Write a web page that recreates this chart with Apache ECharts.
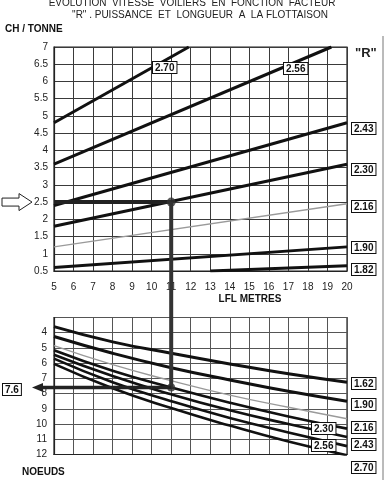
<!DOCTYPE html>
<html>
<head>
<meta charset="utf-8">
<script src="https://cdn.jsdelivr.net/npm/echarts@6/dist/echarts.min.js"></script>
<style>
html,body{margin:0;padding:0;background:#fff;}
#c{width:385px;height:480px;}
</style>
</head>
<body>
<div id="c"></div>
<script>
// ---- DATA ----
// Top chart: CH / TONNE versus LFL (metres) for each factor R
const topNames = ['2.70', '2.56', '2.43', '2.30', '2.16', '1.90', '1.82'];
const chTonne270 = [[5, 4.8], [11.9, 7.0]];
const chTonne256 = [[5, 3.6], [19.2, 7.0]];
const chTonne243 = [[5, 2.4], [20, 4.8]];
const chTonne230 = [[5, 1.8], [20, 3.6]];
const chTonne216 = [[5, 1.2], [20, 2.45]];
const chTonne190 = [[5, 0.6], [20, 1.2]];
const chTonne182 = [[13, 0.5], [20, 0.65]];

// Bottom chart: NOEUDS versus LFL for each factor R
const lflPoints = [5, 8, 11, 14, 17, 20];
const bottomNames = ['1.62', '1.90', '2.16', '2.30', '2.43', '2.56', '2.70'];
const noeuds162 = [3.6, 4.6, 5.35, 6.05, 6.7, 7.25];
const noeuds190 = [4.25, 5.35, 6.3, 7.1, 7.85, 8.5];
const noeuds216 = [4.85, 6.1, 7.15, 8.1, 8.9, 9.65];
const noeuds230 = [5.15, 6.5, 7.6, 8.6, 9.5, 10.3];
const noeuds243 = [5.45, 6.85, 8.05, 9.1, 10.0, 10.85];
const noeuds256 = [5.7, 7.25, 8.5, 9.6, 10.55, 11.45];
const noeuds270 = [6.05, 7.65, 8.95, 10.1, 11.15, 12.05];

// Worked example
const exampleLfl = 11;
const exampleCh = 2.5;
const exampleKnots = 7.6;

// Tick labels
const topYTicks = ['0.5','1','1.5','2','2.5','3','3.5','4','4.5','5','5.5','6','6.5','7'];
const bottomYTicks = ['4','5','6','7','8','9','10','11','12'];
const xTicks = ['5','6','7','8','9','10','11','12','13','14','15','16','17','18','19','20'];

// ---- CHART ----
const FONT = '"Liberation Sans", Arial, sans-serif';
const chart = echarts.init(document.getElementById('c'), null, {renderer: 'canvas'});

const topData = [chTonne270, chTonne256, chTonne243, chTonne230, chTonne216, chTonne190, chTonne182];
const botData = [noeuds162, noeuds190, noeuds216, noeuds230, noeuds243, noeuds256, noeuds270]
  .map(arr => arr.map((v, i) => [lflPoints[i], v]));

function lineStyleFor(name) {
  if (name === '2.16') return {color: '#9a9a9a', width: 1.4};
  return {color: '#111', width: 3};
}

const series = [];
topNames.forEach((n, i) => {
  series.push({
    name: 'top ' + n, type: 'line', xAxisIndex: 0, yAxisIndex: 0,
    data: topData[i], showSymbol: false, silent: true,
    lineStyle: lineStyleFor(n), clip: true, z: 3
  });
});
bottomNames.forEach((n, i) => {
  const ls = lineStyleFor(n);
  if (n !== '2.16' && n !== '1.62' && n !== '1.90') ls.width = 2.6;
  series.push({
    name: 'bottom ' + n, type: 'line', xAxisIndex: 1, yAxisIndex: 1,
    data: botData[i], showSymbol: false, smooth: true, silent: true,
    lineStyle: ls, clip: true, z: 3
  });
});
// horizontal reading line at CH/TONNE 2.5
series.push({
  type: 'line', xAxisIndex: 0, yAxisIndex: 0, silent: true, z: 4,
  data: [[5, exampleCh], [exampleLfl, exampleCh]], showSymbol: false,
  lineStyle: {color: '#222', width: 4}
});
series.push({
  type: 'scatter', xAxisIndex: 0, yAxisIndex: 0, silent: true, z: 6,
  data: [[exampleLfl, exampleCh]], symbolSize: 9, itemStyle: {color: '#333'}
});
series.push({
  type: 'scatter', xAxisIndex: 1, yAxisIndex: 1, silent: true, z: 6,
  data: [[exampleLfl, exampleKnots]], symbolSize: 8, itemStyle: {color: '#333'}
});

const axisText = {color: '#222', fontSize: 10, fontFamily: FONT};
const gridLineTop = {show: true, lineStyle: {color: '#3a3a3a', width: 1, type: 'solid'}};
const gridLineBot = {show: true, lineStyle: {color: '#555', width: 1, type: 'solid'}};

chart.setOption({
  animation: false,
  backgroundColor: '#fff',
  grid: [
    {left: 54, top: 47, width: 293, height: 224, show: true, borderColor: '#222', borderWidth: 1.2, backgroundColor: 'transparent'},
    {left: 54, top: 317.5, width: 293, height: 137, show: true, borderColor: '#222', borderWidth: 1.2, backgroundColor: 'transparent'}
  ],
  xAxis: [
    {type: 'value', gridIndex: 0, min: 5, max: 20, interval: 1,
     axisLine: {show: true, onZero: false, lineStyle: {color: '#222', width: 1.2}},
     axisTick: {show: false},
     axisLabel: Object.assign({margin: 11, formatter: v => xTicks.indexOf(String(v)) >= 0 ? String(v) : ''}, axisText),
     splitLine: gridLineTop},
    {type: 'value', gridIndex: 1, min: 5, max: 20, interval: 1,
     axisLine: {show: true, onZero: false, lineStyle: {color: '#222', width: 1.2}},
     axisTick: {show: false}, axisLabel: {show: false},
     splitLine: gridLineBot}
  ],
  yAxis: [
    {type: 'value', gridIndex: 0, min: 0.5, max: 7, interval: 0.5,
     axisLine: {show: true, onZero: false, lineStyle: {color: '#222', width: 1.2}},
     axisTick: {show: false},
     axisLabel: Object.assign({margin: 6, formatter: v => topYTicks.find(t => parseFloat(t) === v) || ''}, axisText),
     splitLine: gridLineTop},
    {type: 'value', gridIndex: 1, min: 3, max: 12, interval: 1, inverse: true,
     axisLine: {show: true, onZero: false, lineStyle: {color: '#222', width: 1.2}},
     axisTick: {show: false},
     axisLabel: Object.assign({margin: 7, formatter: v => bottomYTicks.indexOf(String(v)) >= 0 ? String(v) : ''}, axisText),
     splitLine: gridLineBot}
  ],
  series: series
});

// ---- annotations ----
const boxStyle = (text, x, y) => ({
  type: 'text', z: 50, x: x, y: y,
  style: {text: text, fill: '#111', font: 'bold 10px ' + FONT,
          backgroundColor: '#fff', borderColor: '#111', borderWidth: 1,
          padding: [1, 2, 0, 2], textAlign: 'left', textVerticalAlign: 'top'}
});

const p1 = chart.convertToPixel({gridIndex: 0}, [exampleLfl, exampleCh]);
const p2 = chart.convertToPixel({gridIndex: 1}, [exampleLfl, exampleKnots]);

const graphics = [
  {type: 'text', x: 192, y: -2, style: {text: 'EVOLUTION  VITESSE  VOILIERS  EN  FONCTION  FACTEUR', font: '10px ' + FONT, fill: '#222', textAlign: 'center'}},
  {type: 'text', x: 200, y: 10, style: {text: '"R" . PUISSANCE  ET  LONGUEUR  A  LA FLOTTAISON', font: '10px ' + FONT, fill: '#222', textAlign: 'center'}},
  {type: 'text', x: 5, y: 24, style: {text: 'CH / TONNE', font: 'bold 10px ' + FONT, fill: '#111'}},
  {type: 'text', x: 250, y: 294, style: {text: 'LFL METRES', font: 'bold 10px ' + FONT, fill: '#111', textAlign: 'center'}},
  {type: 'text', x: 22, y: 467, style: {text: 'NOEUDS', font: 'bold 10px ' + FONT, fill: '#111'}},
  {type: 'text', x: 355, y: 47, style: {text: '"R"', font: 'bold 13px ' + FONT, fill: '#222'}},
  // vertical reading line
  {type: 'line', z: 20, shape: {x1: p1[0], y1: p1[1], x2: p2[0], y2: p2[1]}, style: {stroke: '#333', lineWidth: 4}},
  // arrow to 7.6
  {type: 'line', z: 20, shape: {x1: p2[0], y1: p2[1], x2: 40, y2: p2[1]}, style: {stroke: '#222', lineWidth: 3.5}},
  {type: 'polygon', z: 20, shape: {points: [[32, p2[1]], [43, p2[1] - 4.5], [43, p2[1] + 4.5]]}, style: {fill: '#222'}},
  // hollow arrow pointing to 2.5
  {type: 'polygon', z: 20, shape: {points: [[2, p1[1] - 4], [19, p1[1] - 4], [19, p1[1] - 8.5], [32, p1[1]], [19, p1[1] + 8.5], [19, p1[1] + 4], [2, p1[1] + 4]]},
   style: {fill: '#fff', stroke: '#222', lineWidth: 1}},
  // scan border on the right
  {type: 'line', z: 1, shape: {x1: 383, y1: 36, x2: 383, y2: 480}, style: {stroke: '#777', lineWidth: 1}},
  boxStyle('7.6', 3, 384),
  // top chart labels
  boxStyle('2.70', 153, 62),
  boxStyle('2.56', 284, 63),
  boxStyle('2.43', 352, 123),
  boxStyle('2.30', 352, 164),
  boxStyle('2.16', 352, 201),
  boxStyle('1.90', 352, 242),
  boxStyle('1.82', 352, 264),
  // bottom chart labels
  boxStyle('1.62', 352, 378),
  boxStyle('1.90', 352, 399),
  boxStyle('2.16', 352, 422),
  boxStyle('2.43', 352, 439),
  boxStyle('2.70', 352, 462),
  boxStyle('2.30', 312, 423),
  boxStyle('2.56', 312, 440)
];
chart.setOption({graphic: graphics});
</script>
</body>
</html>
